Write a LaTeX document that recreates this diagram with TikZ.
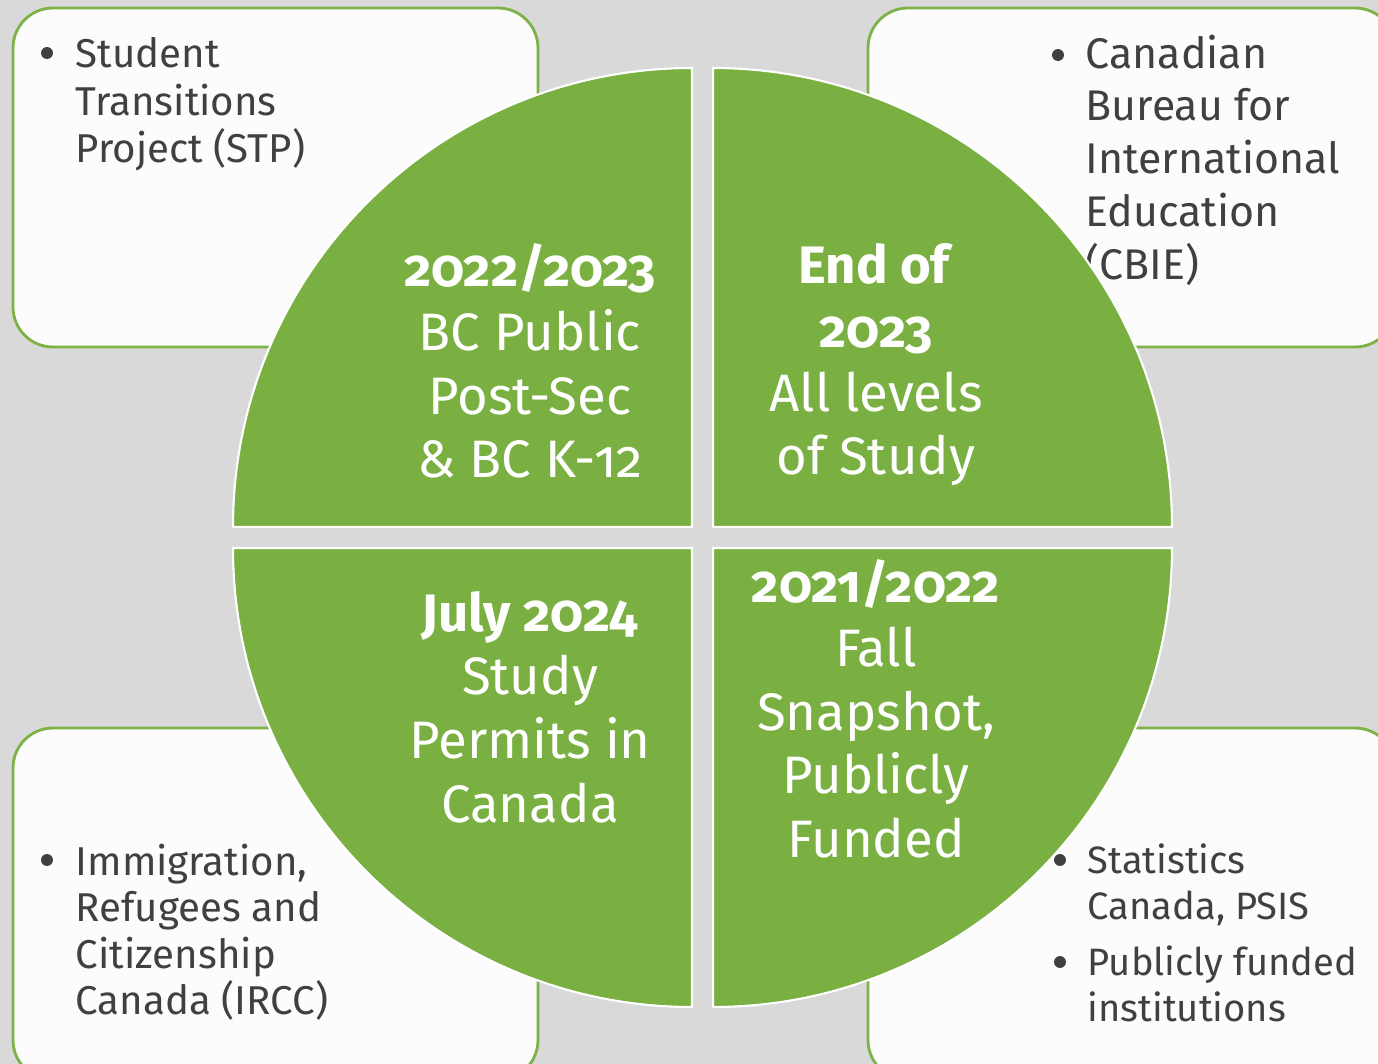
\documentclass[tikz,border=0pt]{standalone}
\usepackage{fontspec}
\setmainfont{Fira Sans}[Numbers=OldStyle]
\definecolor{leafgreen}{HTML}{7AB042}
\definecolor{boxgreen}{HTML}{7DB246}
\definecolor{boxwhite}{HTML}{FCFCFC}
\definecolor{pagegray}{HTML}{D9D9D9}
\definecolor{textgray}{HTML}{404040}
\tikzset{
  quarter/.style={fill=leafgreen, draw=white, line width=0.6pt},
  srcbox/.style={fill=boxwhite, draw=boxgreen, line width=0.8pt, rounded corners=4mm},
  qtext/.style={text=white, align=center, inner sep=0pt, font=\fontsize{15}{18.1}\selectfont},
  srctext/.style={text=textgray, align=left, inner sep=0pt, anchor=north west},
}

\begin{document}
\begin{tikzpicture}[x=0.1mm,y=-0.1mm]
\useasboundingbox (0,0) rectangle (1378,1064);
\fill[pagegray] (0,0) rectangle (1378,1064);
% source boxes
\draw[srcbox] (13,8) rectangle (538,347);
\draw[srcbox] (868,8) rectangle (1395,347);
\draw[srcbox] (13,728) rectangle (538,1080);
\draw[srcbox] (868,728) rectangle (1395,1080);
\node[srctext, font=\fontsize{11.45}{13.5}\selectfont] (stp) at (75,37) {Student\\Transitions\\Project (STP)};
\node[srctext, font=\fontsize{12.2}{15}\selectfont] (cbie) at (1085,34) {Canadian\\Bureau for\\International\\Education\\(CBIE)};
\node[srctext, font=\fontsize{11.45}{13.25}\selectfont] (ircc) at (75,843) {Immigration,\\Refugees and\\Citizenship\\Canada (IRCC)};
\node[srctext, font=\fontsize{10.85}{13.2}\selectfont] (psis) at (1087,843) {Statistics\\Canada, PSIS};
\node[srctext, font=\fontsize{10.85}{13.2}\selectfont] (inst) at (1087,945) {Publicly funded\\institutions};
\foreach \bx/\by in {47/53, 1058/55, 47/860, 1060/860, 1060/962}
  \fill[textgray] (\bx,\by) circle[radius=1.7pt];
% circle in four quarters
\foreach \cx/\cy/\a in {692/527/180, 713/527/270, 713/548/0, 692/548/90}
  \filldraw[quarter] (\cx,\cy) -- ++(\a:459) arc[start angle=\a, delta angle=90, radius=459] -- cycle;
\node[qtext] (qtl) at (530,361) {\textbf{2022/2023}\\BC Public\\Post-Sec\\\& BC K-12};
\node[qtext] (qtr) at (876,365) {\textbf{End of}\\\textbf{2023}\\All levels\\of Study};
\node[qtext] (qbl) at (530,707) {\textbf{July 2024}\\Study\\Permits in\\Canada};
\node[qtext] (qbr) at (876,709) {\textbf{2021/2022}\\Fall\\Snapshot,\\Publicly\\Funded};
\end{tikzpicture}
\end{document}
